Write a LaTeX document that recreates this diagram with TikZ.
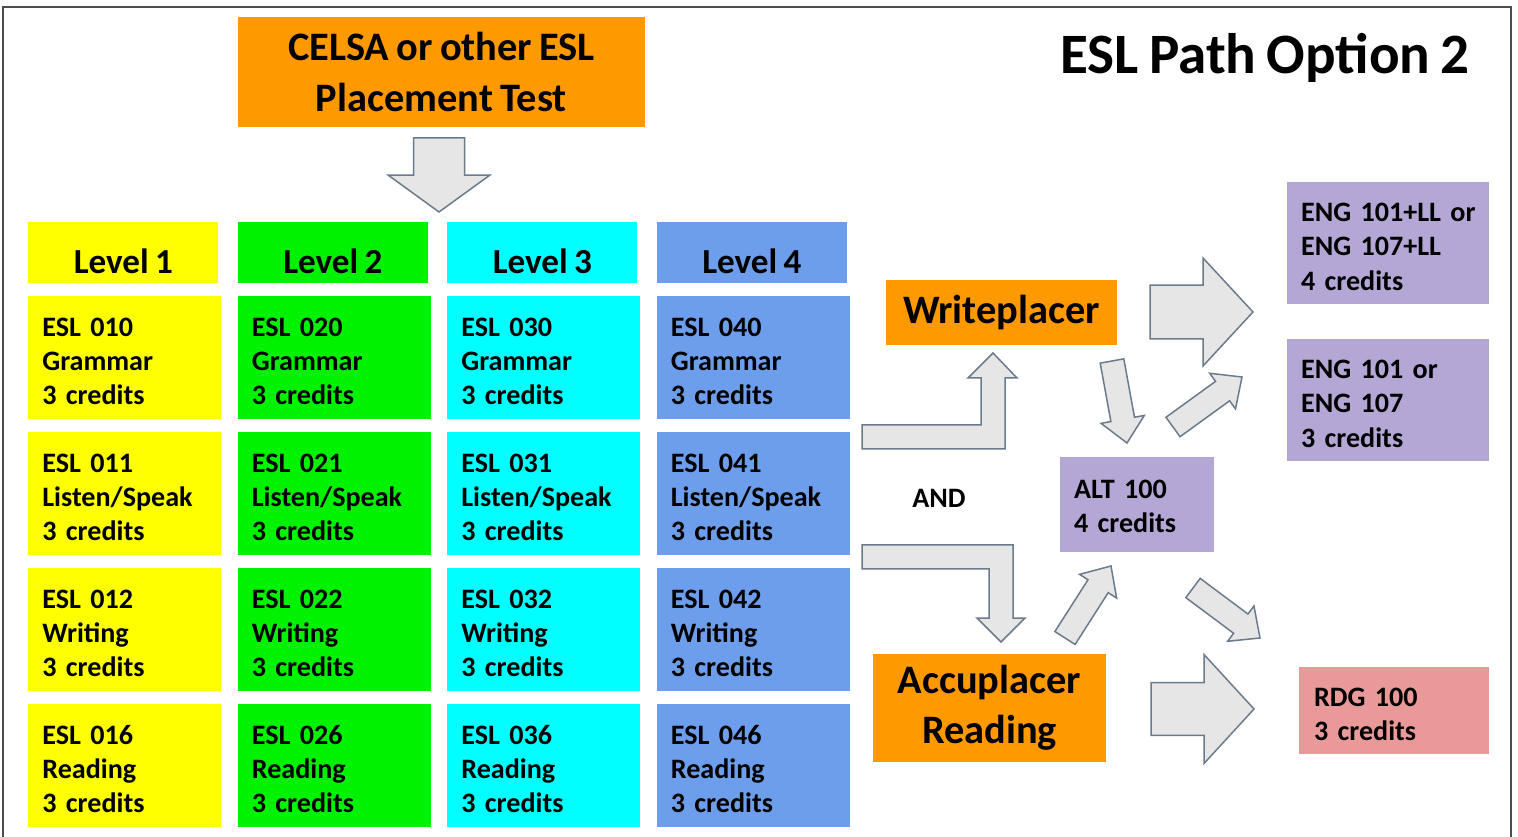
\documentclass[tikz,border=0pt]{standalone}
\usepackage{fontspec}
\setmainfont[WordSpace=0.8]{Carlito}
\usetikzlibrary{calc}

\definecolor{lvlone}{HTML}{FFFF00}
\definecolor{lvltwo}{HTML}{00F200}
\definecolor{lvlthree}{HTML}{00FFFF}
\definecolor{lvlfour}{HTML}{6D9EEB}
\definecolor{testorange}{HTML}{FF9900}
\definecolor{engpurple}{HTML}{B4A7D6}
\definecolor{rdgpink}{HTML}{EA9999}
\definecolor{arrowfill}{HTML}{E6E6E6}
\definecolor{arrowline}{HTML}{6B7B8C}

\newcommand{\topgap}{\rule{0pt}{0.52cm}}
% block arrow: tail, tip, shaft half width, head half width, head length
\newcommand{\blockarrow}[5]{%
  \coordinate (ba-base) at ($(#2)!#5!(#1)$);
  \draw[arrowbody] ($(#1)!#3!90:(#2)$) -- ($(ba-base)!#3!-90:(#1)$)
    -- ($(ba-base)!#4!-90:(#1)$) -- (#2) -- ($(ba-base)!#4!90:(#1)$)
    -- ($(ba-base)!#3!90:(#1)$) -- ($(#1)!#3!-90:(#2)$) -- cycle;
}

\begin{document}
\begin{tikzpicture}[x=0.02cm,y=-0.02cm,font=\bfseries,
    level/.style={anchor=north west,minimum width=3.8cm,minimum height=1.22cm,
      text height=0.82cm,text depth=0cm,font=\fontsize{20}{24}\selectfont\bfseries},
    course/.style={anchor=north west,minimum width=3.86cm,minimum height=2.46cm,
      text width=3.3cm,inner xsep=0.28cm,align=left,
      font=\fontsize{16}{19.5}\selectfont\bfseries},
    testbox/.style={fill=testorange,align=center,
      font=\fontsize{23}{28.5}\selectfont\bfseries},
    endbox/.style={inner xsep=0.28cm,align=left,
      font=\fontsize{16}{19.5}\selectfont\bfseries},
    arrowbody/.style={fill=arrowfill,draw=arrowline,line width=0.03cm,line join=miter}]
  \useasboundingbox (0,0) rectangle (1518,837);
  \draw[line width=0.04cm,gray!60!black] (3,7) rectangle (1511,845);

  \node[testbox,minimum width=8.14cm,minimum height=2.2cm] (celsa) at (441.5,72)
    {CELSA or other ESL\\Placement Test};
  \node[font=\fontsize{32.5}{38}\selectfont\bfseries] (title) at (1265,58) {ESL Path Option 2};

  % levels and courses
  \foreach \c/\clr in {1/lvlone,2/lvltwo,3/lvlthree,4/lvlfour}{
    \node[level,fill=\clr] (l\c) at ({28+209.5*(\c-1)},222) {Level \c};
    \foreach \r/\k/\subj in {0/0/Grammar,1/1/{Listen/Speak},2/2/Writing,3/6/Reading}
      \node[course,fill=\clr] (c\c\k) at ({28+209.5*(\c-1)},{296+136*\r})
        {\topgap ESL 0\c\k\\\subj\\3 credits};
  }

  \node[testbox,minimum width=4.62cm,minimum height=1.3cm] (wp) at (1001.5,312.5) {Writeplacer};
  \node[testbox,minimum width=4.66cm,minimum height=2.16cm] (acc) at (989.5,708)
    {Accuplacer\\Reading};
  \node[font=\fontsize{16}{19.5}\selectfont\bfseries] (and) at (939,498) {AND};
  \node[endbox,fill=engpurple,minimum width=3.08cm,minimum height=1.9cm,text width=2.52cm]
    (alt) at (1137,504.5) {\rule{0pt}{0.44cm}ALT 100\\4 credits};
  \node[endbox,fill=engpurple,minimum width=4.04cm,minimum height=2.44cm,text width=3.48cm]
    (engll) at (1388,243) {\topgap\mbox{ENG 101+LL or}\\ENG 107+LL\\4 credits};
  \node[endbox,fill=engpurple,minimum width=4.04cm,minimum height=2.44cm,text width=3.48cm]
    (eng) at (1388,400) {\topgap ENG 101 or\\ENG 107\\3 credits};
  \node[endbox,fill=rdgpink,minimum width=3.8cm,minimum height=1.74cm,text width=3.2cm,
    inner xsep=0.3cm] (rdg) at (1394,710.5) {\topgap RDG 100\\3 credits};

  % arrows
  \coordinate (celsa-out) at (439,138);
  \coordinate (levels-in) at (439,212);
  \coordinate (wp-out) at (1150,312);
  \coordinate (engll-in) at (1253,312);
  \coordinate (acc-out) at (1151,709);
  \coordinate (rdg-in) at (1254,709);
  \coordinate (wp-down) at (1112,361);
  \coordinate (alt-top) at (1127,443);
  \coordinate (alt-ne) at (1173,427);
  \coordinate (eng-in) at (1242,377);
  \coordinate (acc-up) at (1065,638);
  \coordinate (alt-bottom) at (1111,566);
  \coordinate (alt-se) at (1193,588);
  \coordinate (rdg-top) at (1260,638);
  \blockarrow{celsa-out}{levels-in}{0.51cm}{1.02cm}{0.74cm}
  \blockarrow{wp-out}{engll-in}{0.54cm}{1.08cm}{1.0cm}
  \blockarrow{acc-out}{rdg-in}{0.53cm}{1.09cm}{1.0cm}
  \blockarrow{wp-down}{alt-top}{0.24cm}{0.44cm}{0.48cm}
  \blockarrow{alt-ne}{eng-in}{0.24cm}{0.44cm}{0.48cm}
  \blockarrow{acc-up}{alt-bottom}{0.24cm}{0.44cm}{0.48cm}
  \blockarrow{alt-se}{rdg-top}{0.24cm}{0.44cm}{0.48cm}
  % bent arrows from level 4
  \draw[arrowbody] (862,425) -- (981,425) -- (981,378) -- (968,378) -- (993,353)
    -- (1017,378) -- (1005,378) -- (1005,449) -- (862,449) -- cycle;
  \draw[arrowbody] (862,545) -- (1013,545) -- (1013,618) -- (1025,618) -- (1001,642)
    -- (977,618) -- (989,618) -- (989,569) -- (862,569) -- cycle;
\end{tikzpicture}
\end{document}
